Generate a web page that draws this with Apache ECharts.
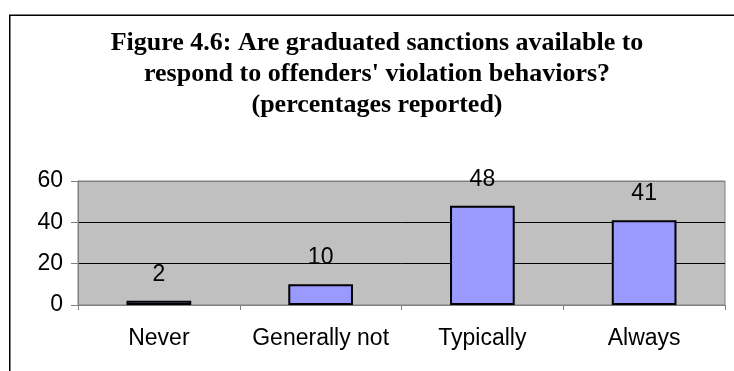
<!DOCTYPE html>
<html>
<head>
<meta charset="utf-8">
<script src="https://cdn.jsdelivr.net/npm/echarts@6/dist/echarts.min.js"></script>
<style>
  html, body { margin: 0; padding: 0; background: #fff; }
  #chart { width: 734px; height: 371px; }
</style>
</head>
<body>
<div id="chart"></div>
<script>
// Responses to the graduated-sanctions question, in percent
const categories = ['Never', 'Generally not', 'Typically', 'Always'];
const percentages = [2, 10, 48, 41];
const yTicks = [0, 20, 40, 60];

const titleText = "Figure 4.6: Are graduated sanctions available to\nrespond to offenders' violation behaviors?\n(percentages reported)";

const chart = echarts.init(document.getElementById('chart'), null, { renderer: 'canvas' });

chart.setOption({
  animation: false,
  backgroundColor: '#ffffff',
  title: {
    text: titleText,
    left: 377,
    textAlign: 'center',
    top: 28,
    padding: 0,
    textStyle: {
      fontFamily: '"Liberation Serif", "Times New Roman", serif',
      fontWeight: 'bold',
      fontSize: 26,
      lineHeight: 31,
      color: '#000'
    }
  },
  graphic: [{
    type: 'rect',
    silent: true,
    shape: { x: 9.75, y: 15.25, width: 900, height: 600 },
    style: { fill: null, stroke: '#000', lineWidth: 1.5 }
  }],
  grid: {
    left: 78,
    right: 9,
    top: 181,
    bottom: 66,
    show: true,
    backgroundColor: '#c0c0c0',
    borderColor: '#808080',
    borderWidth: 1
  },
  xAxis: {
    type: 'category',
    data: categories,
    axisLine: { lineStyle: { color: '#808080', width: 1 } },
    axisTick: { show: true, length: 5, lineStyle: { color: '#808080' } },
    axisLabel: {
      interval: 0,
      margin: 22,
      color: '#000',
      fontFamily: '"Liberation Sans", Arial, sans-serif',
      fontSize: 23
    }
  },
  yAxis: {
    type: 'value',
    min: yTicks[0],
    max: yTicks[yTicks.length - 1],
    interval: yTicks[1] - yTicks[0],
    axisLine: { show: true, lineStyle: { color: '#808080', width: 1 } },
    axisTick: { show: true, length: 7, lineStyle: { color: '#808080' } },
    splitLine: { show: true, lineStyle: { color: ['#000', '#000', '#000', '#808080'], width: 1 } },
    axisLabel: {
      margin: 15,
      color: '#000',
      fontFamily: '"Liberation Sans", Arial, sans-serif',
      fontSize: 23
    }
  },
  series: [{
    type: 'bar',
    data: percentages,
    barWidth: '40%',
    itemStyle: { color: '#9999ff', borderColor: '#000', borderWidth: 2 },
    label: {
      show: true,
      position: 'top',
      distance: 15,
      color: '#000',
      fontFamily: '"Liberation Sans", Arial, sans-serif',
      fontSize: 23
    }
  }]
});
</script>
</body>
</html>
